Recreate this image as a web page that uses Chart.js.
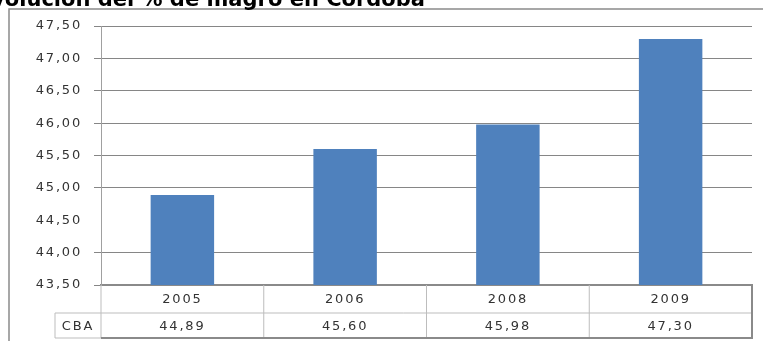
<!DOCTYPE html>
<html>
<head>
<meta charset="utf-8">
<script src="https://cdn.jsdelivr.net/npm/chart.js@4.4.0/dist/chart.umd.min.js"></script>
<style>
  html, body { margin: 0; padding: 0; background: #fff; }
  #wrap { width: 763px; height: 341px; }
</style>
</head>
<body>
<div id="wrap"><canvas id="mycanvas" width="763" height="341"></canvas></div>
<script>
var titulo = "Evolución del % de magro en Córdoba";
var anios = ["2005", "2006", "2008", "2009"];
var serieNombre = "CBA";
var magro = [44.89, 45.60, 45.98, 47.30];
var yTicks = [43.5, 44.0, 44.5, 45.0, 45.5, 46.0, 46.5, 47.0, 47.5];

function coma(v) {
	return Number(v).toFixed(2).replace(".", ",");
}

var fuente = '"DejaVu Sans", Verdana, sans-serif';
var sep = "1.8px";

// text spacing to get the wide look of the original labels
var espaciado = {
	id: "espaciado",
	beforeUpdate: function(chart) { chart.ctx.letterSpacing = sep; },
	beforeDraw: function(chart) { chart.ctx.letterSpacing = sep; }
};

// outer frame and clipped title
var marco = {
	id: "marco",
	beforeDraw: function(chart) {
		var ctx = chart.ctx;
		ctx.save();
		ctx.fillStyle = "#fff";
		ctx.fillRect(0, 0, chart.width, chart.height);
		ctx.strokeStyle = "#8a8a8a";
		ctx.lineWidth = 1.5;
		ctx.beginPath();
		ctx.moveTo(9, chart.height);
		ctx.lineTo(9, 9);
		ctx.lineTo(chart.width, 9);
		ctx.stroke();
		ctx.letterSpacing = "0px";
		ctx.fillStyle = "#000";
		ctx.font = "bold 21px " + fuente;
		ctx.textAlign = "right";
		ctx.textBaseline = "alphabetic";
		ctx.fillText(titulo, 425, 6);
		ctx.restore();
	}
};

// data table under the bars
var tabla = {
	id: "tabla",
	afterDraw: function(chart) {
		var ctx = chart.ctx;
		var xs = chart.scales.x;
		var area = chart.chartArea;
		var n = anios.length;
		var w = (area.right - area.left) / n;
		var y0 = area.bottom, y1 = area.bottom + 28, y2 = area.bottom + 53;
		var xLab = 55;
		ctx.save();
		ctx.letterSpacing = sep;
		// inner lines
		ctx.strokeStyle = "#bdbdbd";
		ctx.lineWidth = 1;
		ctx.beginPath();
		ctx.moveTo(xLab, y1); ctx.lineTo(area.right, y1);
		ctx.moveTo(xLab, y1); ctx.lineTo(xLab, y2);
		ctx.moveTo(area.left, y0); ctx.lineTo(area.left, y2);
		for (var i = 1; i < n; i++) {
			var xb = xs.getPixelForValue(i) - w / 2;
			ctx.moveTo(xb, y0); ctx.lineTo(xb, y2);
		}
		ctx.moveTo(xLab, y2); ctx.lineTo(area.left, y2);
		ctx.stroke();
		// outer border
		ctx.strokeStyle = "#8a8a8a";
		ctx.lineWidth = 2;
		ctx.beginPath();
		ctx.moveTo(area.right, y0); ctx.lineTo(area.right, y2);
		ctx.lineTo(area.left, y2);
		ctx.stroke();
		// texts
		ctx.fillStyle = "#333";
		ctx.font = "13px " + fuente;
		ctx.textAlign = "center";
		ctx.textBaseline = "middle";
		for (var j = 0; j < n; j++) {
			var xc = xs.getPixelForValue(j);
			ctx.fillText(anios[j], xc, (y0 + y1) / 2 + 1);
			ctx.fillText(coma(magro[j]), xc, (y1 + y2) / 2 + 1);
		}
		ctx.fillText(serieNombre, (xLab + area.left) / 2, (y1 + y2) / 2 + 1);
		ctx.restore();
	}
};

var ctx = document.getElementById("mycanvas");

var grafico = new Chart(ctx, {
	type: "bar",
	data: {
		labels: anios,
		datasets: [
			{
				label: serieNombre,
				data: magro,
				backgroundColor: "#4f81bd",
				borderWidth: 0,
				barPercentage: 0.39,
				categoryPercentage: 1
			}
		]
	},
	options: {
		responsive: false,
		animation: false,
		devicePixelRatio: 1,
		layout: { padding: { top: 26, right: 11, bottom: 56, left: 0 } },
		plugins: {
			legend: { display: false },
			tooltip: { enabled: false },
			title: { display: false }
		},
		scales: {
			x: {
				grid: { display: true, color: "rgba(0,0,0,0)", drawTicks: false },
				border: { display: true, color: "#8a8a8a", width: 2 },
				ticks: { display: false },
				afterFit: function(s) { s.height = 0; }
			},
			y: {
				min: 43.5,
				max: 47.5,
				afterBuildTicks: function(s) {
					s.ticks = yTicks.map(function(v) { return { value: v }; });
				},
				afterFit: function(s) { s.width = 101; },
				grid: {
					color: function(c) {
						return c.tick && c.tick.value === 44.5 ? "rgba(0,0,0,0)" : "#868686";
					},
					lineWidth: 1,
					tickLength: 7
				},
				border: { display: true, color: "#a0a0a0", width: 1 },
				ticks: {
					padding: 12,
					color: "#333",
					font: { family: fuente, size: 13 },
					callback: function(v) { return coma(v); }
				}
			}
		}
	},
	plugins: [espaciado, marco, tabla]
});
</script>
</body>
</html>
